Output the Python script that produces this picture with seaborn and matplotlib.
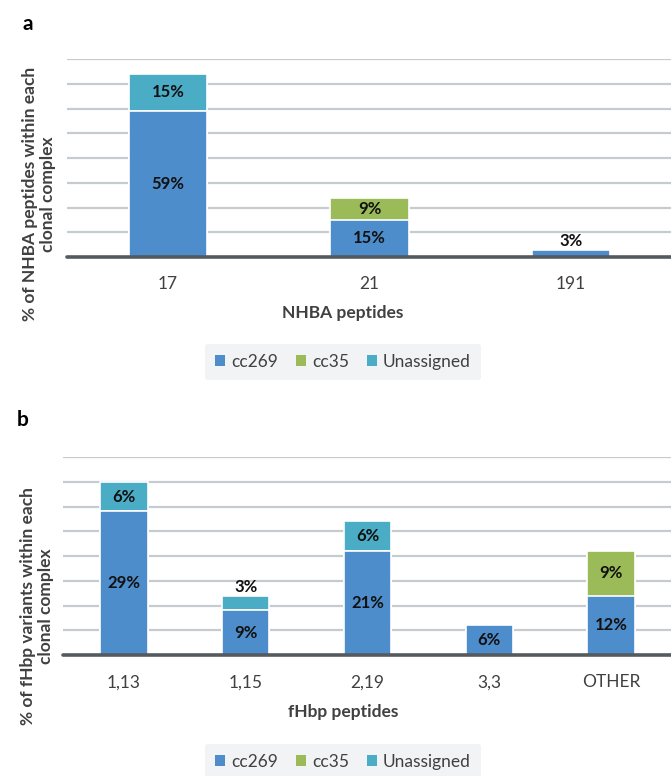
import matplotlib
matplotlib.use("Agg")
import matplotlib.pyplot as plt
import seaborn as sns
import numpy as np
from matplotlib.patches import Patch

# ---- data ----
nhba_peptides = ["17", "21", "191"]
nhba_cc269 = [59, 15, 3]
nhba_cc35 = [0, 9, 0]
nhba_unassigned = [15, 0, 0]

fhbp_peptides = ["1,13", "1,15", "2,19", "3,3", "OTHER"]
fhbp_cc269 = [29, 9, 21, 6, 12]
fhbp_cc35 = [0, 0, 0, 0, 9]
fhbp_unassigned = [6, 3, 6, 0, 0]

series_names = ["cc269", "cc35", "Unassigned"]
colors = ["#4d8dcb", "#9bbb59", "#4bacc6"]

sns.set_theme(style="white")
plt.rcParams['font.family'] = ['Lato', 'DejaVu Sans']

fig = plt.figure(figsize=(6.71, 7.76), dpi=100)
W, H = 671, 776


def px_axes(l, t, r, b):
    return fig.add_axes([l / W, 1 - b / H, (r - l) / W, (b - t) / H])


def draw_panel(ax, cats, layers, ymax, step):
    n = len(cats)
    cum = np.cumsum(np.array(layers, dtype=float), axis=0)
    # draw back to front: total first
    for i in range(len(layers) - 1, -1, -1):
        sns.barplot(x=cats, y=cum[i], color=colors[i], width=0.39,
                    edgecolor="white", linewidth=1.2, saturation=1,
                    ax=ax, zorder=3)
    # labels
    for i, layer in enumerate(layers):
        for j, v in enumerate(layer):
            if v == 0:
                continue
            top = cum[i][j]
            bottom = top - v
            if v <= 3:
                ax.text(j, top + ymax * 0.005, f"{v}%", ha="center", va="bottom",
                        fontsize=12, fontweight="bold", color="#111111", zorder=5)
            else:
                ax.text(j, (top + bottom) / 2, f"{v}%", ha="center", va="center",
                        fontsize=12, fontweight="bold", color="#111111", zorder=5)
    ax.set_xlim(-0.5, n - 0.5)
    ax.set_ylim(0, ymax)
    for y in np.arange(step, ymax + 0.01, step):
        ax.axhline(y, color="#c6cbd0", lw=1.6, zorder=1)
    ax.axhline(0, color="#555a5e", lw=2.6, zorder=6, clip_on=False)
    for s in ax.spines.values():
        s.set_visible(False)
    ax.set_yticks([])
    ax.set_ylabel("")
    ax.set_xlabel("")
    ax.tick_params(axis="x", length=0, pad=14, labelsize=12.5, labelcolor="#404040")


# Panel a
ax1 = px_axes(67, 59, 672, 257)
draw_panel(ax1, nhba_peptides, [nhba_cc269, nhba_cc35, nhba_unassigned], 80, 10)
fig.text(343 / W, 1 - 313 / H, "NHBA peptides", ha="center", va="center",
         fontsize=12.5, fontweight="bold", color="#404040")
fig.text(39 / W, 1 - 194 / H, "% of NHBA peptides within each\nclonal complex",
         rotation=90, ha="center", va="center", fontsize=12.5, fontweight="bold",
         color="#404040", linespacing=1.15)
fig.text(28 / W, 1 - 24 / H, "a", ha="center", va="center", fontsize=15,
         fontweight="bold", color="black")

# Panel b
ax2 = px_axes(63, 457, 672, 655)
draw_panel(ax2, fhbp_peptides, [fhbp_cc269, fhbp_cc35, fhbp_unassigned], 40, 5)
fig.text(343 / W, 1 - 712 / H, "fHbp peptides", ha="center", va="center",
         fontsize=12.5, fontweight="bold", color="#404040")
fig.text(37 / W, 1 - 606 / H, "% of fHbp variants within each\nclonal complex",
         rotation=90, ha="center", va="center", fontsize=12.5, fontweight="bold",
         color="#404040", linespacing=1.15)
fig.text(23 / W, 1 - 420 / H, "b", ha="center", va="center", fontsize=15,
         fontweight="bold", color="black")

handles = [Patch(facecolor=c, edgecolor="none", label=nm) for c, nm in zip(colors, series_names)]
for ycen in (362, 762):
    leg = fig.legend(handles=handles, loc="center", bbox_to_anchor=(343 / W, 1 - ycen / H),
                     ncol=3, frameon=True, fontsize=12.5, handlelength=0.6, handleheight=0.6,
                     handletextpad=0.35, columnspacing=1.0, borderpad=0.6,
                     labelcolor="#404040")
    fr = leg.get_frame()
    fr.set_facecolor("#f1f3f4")
    fr.set_edgecolor("none")
    fr.set_alpha(1)

fig.savefig("out.png", dpi=100, facecolor="white")
